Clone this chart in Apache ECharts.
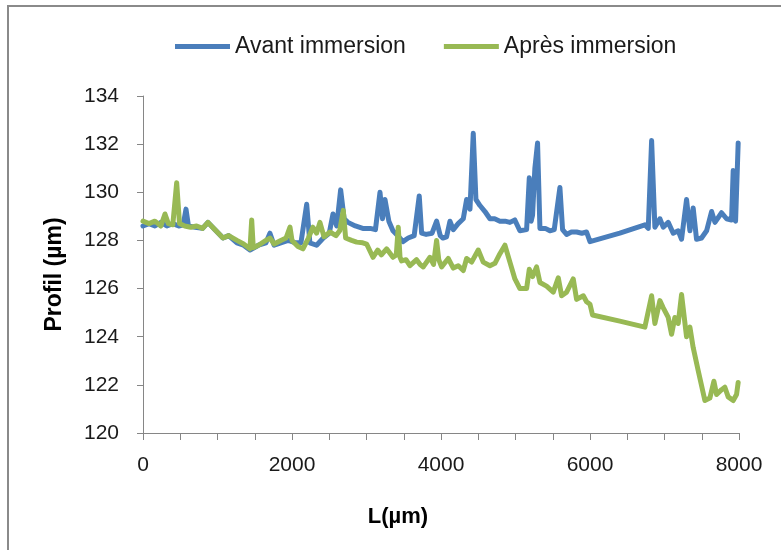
<!DOCTYPE html>
<html><head><meta charset="utf-8">
<script src="https://cdn.jsdelivr.net/npm/echarts@6/dist/echarts.min.js"></script>
<style>html,body{margin:0;padding:0;background:#fff}#c{width:781px;height:550px}</style>
</head><body><div id="c"></div>
<script>
const seriesNames = ['Avant immersion', 'Après immersion'];
const xTicks = [0, 2000, 4000, 6000, 8000];
const yTicks = [120, 122, 124, 126, 128, 130, 132, 134];

const avantL = [0,80,160,240,320,400,480,540,577,610,700,800,872,950,1074,1150,1261,1350,1436,1550,1650,1704,1760,1850,1950,2050,2120,2197,2240,2330,2420,2500,2550,2600,2653,2700,2751,2850,2950,3050,3120,3181,3215,3248,3300,3355,3420,3489,3560,3640,3708,3740,3800,3880,3941,3990,4026,4075,4120,4165,4230,4299,4344,4389,4433,4469,4523,4590,4657,4720,4791,4860,4925,4991,5059,5149,5185,5210,5229,5260,5296,5328,5400,5462,5520,5596,5632,5686,5750,5820,5890,5954,6000,6400,6737,6782,6827,6871,6938,6983,7050,7117,7184,7229,7296,7341,7385,7430,7497,7565,7632,7677,7766,7833,7900,7922,7954,7989];
const avantP = [128.6,128.7,128.6,128.75,128.6,128.7,128.6,128.65,129.3,128.6,128.55,128.5,128.75,128.5,128.1,128.2,127.9,127.8,127.6,127.8,127.9,128.3,127.8,127.9,128.0,127.9,127.9,129.5,127.9,127.8,128.1,128.3,129.1,128.6,130.1,128.9,128.75,128.6,128.5,128.5,128.45,130.0,128.9,129.7,128.8,128.4,128.2,127.95,128.1,128.2,129.85,128.3,128.25,128.3,128.8,128.2,128.1,128.15,128.8,128.45,128.7,128.9,129.7,129.3,132.45,129.7,129.45,129.2,128.9,128.9,128.8,128.8,128.75,128.85,128.4,128.45,130.6,128.8,129.05,131.0,132.05,128.5,128.5,128.4,128.45,130.2,128.45,128.25,128.35,128.35,128.3,128.35,127.95,128.3,128.65,128.5,132.15,128.55,128.9,128.55,128.75,128.3,128.4,128.05,129.7,128.4,129.35,128.05,128.1,128.4,129.2,128.75,129.15,128.9,128.85,130.9,128.8,132.05];

const apresL = [0,80,160,240,295,340,400,452,490,560,640,720,800,872,950,1074,1150,1261,1350,1436,1459,1480,1550,1650,1704,1760,1850,1920,1973,2000,2080,2147,2220,2281,2330,2375,2430,2510,2590,2640,2688,2720,2800,2868,2950,3002,3087,3150,3200,3270,3355,3400,3426,3450,3471,3530,3583,3672,3720,3762,3852,3900,3941,3970,4008,4030,4097,4165,4232,4299,4344,4411,4500,4567,4657,4724,4791,4858,4880,4925,4992,5059,5149,5185,5230,5283,5328,5417,5507,5574,5619,5686,5775,5820,5910,5954,6000,6034,6400,6737,6827,6871,6938,6983,7050,7095,7139,7184,7229,7296,7341,7385,7452,7542,7609,7663,7699,7766,7810,7855,7922,7967,7989];
const apresP = [128.8,128.7,128.8,128.6,129.1,128.7,128.65,130.4,128.7,128.6,128.55,128.6,128.5,128.75,128.5,128.1,128.2,128.0,127.85,127.65,128.85,127.7,127.8,128.0,128.1,127.85,128.0,128.1,128.55,128.0,127.75,127.65,128.1,128.55,128.3,128.75,128.15,128.35,128.2,128.4,129.25,128.1,128.0,127.93,127.9,127.85,127.3,127.6,127.4,127.65,127.3,127.4,128.55,127.3,127.15,127.2,126.95,127.2,127.0,126.9,127.3,127.0,128.0,127.2,126.9,126.82,127.25,126.85,126.95,126.75,127.25,127.1,127.6,127.1,126.95,127.05,127.45,127.8,127.85,127.1,126.4,126.0,126.0,126.8,126.5,126.9,126.25,126.1,125.85,126.45,125.7,125.85,126.4,125.55,125.7,125.45,125.35,124.9,124.65,124.4,125.7,124.55,125.5,125.2,124.8,124.1,124.8,124.55,125.75,124.0,124.4,123.55,122.6,121.35,121.45,122.15,121.6,121.8,121.9,121.5,121.35,121.6,122.1];

const zip = (a, b) => a.map((v, i) => [v, b[i]]);
const FONT = 'Liberation Sans';
const AX = '#868686';

const chart = echarts.init(document.getElementById('c'), null, {renderer: 'canvas'});
chart.setOption({
  animation: false,
  backgroundColor: '#fff',
  color: ['#4a7ebb', '#98b954'],
  graphic: [{
    type: 'rect', shape: {x: 8, y: 6, width: 800, height: 600},
    style: {fill: 'none', stroke: '#8a8a8a', lineWidth: 2}, silent: true
  }],
  legend: {
    data: seriesNames, left: 170, top: 30, icon: 'rect',
    itemWidth: 55, itemHeight: 5, itemGap: 38,
    textStyle: {fontFamily: FONT, fontSize: 23, color: '#1a1a1a'}
  },
  grid: {left: 143, right: 42, top: 96, bottom: 117, containLabel: false},
  xAxis: {
    type: 'value', min: 0, max: 8000, interval: 500,
    name: 'L(µm)', nameLocation: 'middle', nameGap: 73,
    nameTextStyle: {fontFamily: FONT, fontSize: 22, fontWeight: 'bold', color: '#000',
                    padding: [0, 86, 0, 0]},
    axisLine: {show: true, lineStyle: {color: AX, width: 1}},
    axisTick: {show: true, length: 7, lineStyle: {color: AX}},
    splitLine: {show: false},
    axisLabel: {
      fontFamily: FONT, fontSize: 21, color: '#1a1a1a', margin: 22,
      formatter: v => xTicks.includes(v) ? String(v) : ''
    }
  },
  yAxis: {
    type: 'value', min: yTicks[0], max: yTicks[yTicks.length - 1], interval: 2,
    name: 'Profil (µm)', nameLocation: 'middle', nameGap: 77, nameRotate: 90,
    nameTextStyle: {fontFamily: FONT, fontSize: 23, fontWeight: 'bold', color: '#000',
                    padding: [0, 20, 0, 0]},
    axisLine: {show: true, lineStyle: {color: AX, width: 1}},
    axisTick: {show: true, length: 6, lineStyle: {color: AX}},
    splitLine: {show: false},
    axisLabel: {fontFamily: FONT, fontSize: 21, color: '#1a1a1a', margin: 24}
  },
  series: [
    {name: seriesNames[0], type: 'line', data: zip(avantL, avantP), showSymbol: false,
     lineStyle: {width: 5, join: 'round', cap: 'round'}, z: 2},
    {name: seriesNames[1], type: 'line', data: zip(apresL, apresP), showSymbol: false,
     lineStyle: {width: 5, join: 'round', cap: 'round'}, z: 3}
  ]
});
</script>
</body></html>
